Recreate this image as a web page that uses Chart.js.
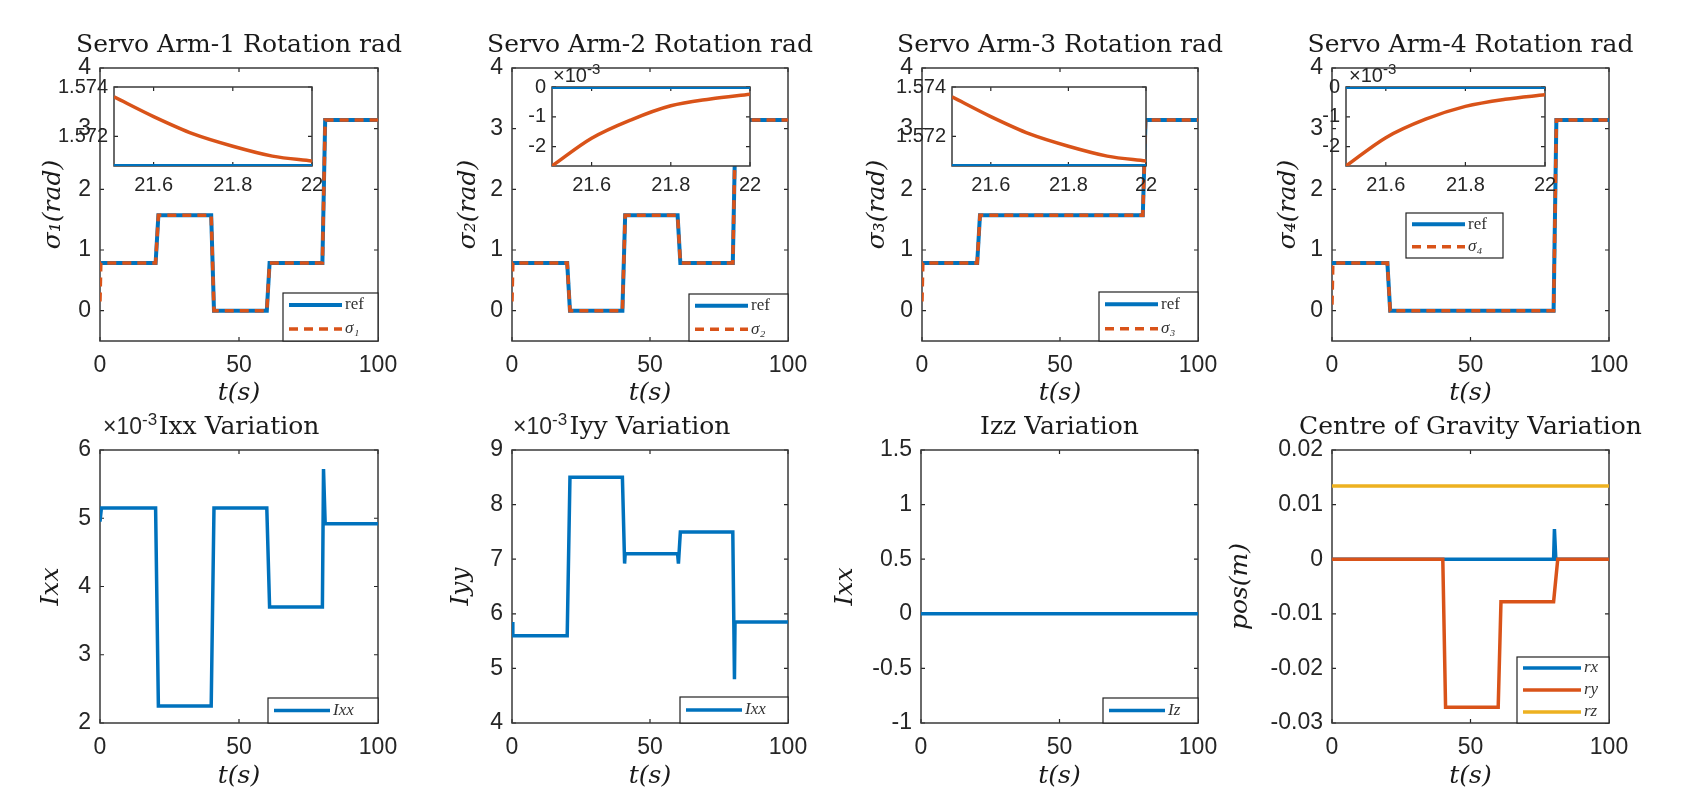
<!DOCTYPE html>
<html><head><meta charset="utf-8">
<script src="https://cdn.jsdelivr.net/npm/chart.js@4.4.1/dist/chart.umd.min.js"></script>
<style>
html,body{margin:0;padding:0;background:#fff;}
body{width:1683px;height:789px;position:relative;overflow:hidden;}
canvas{position:absolute;}
</style></head><body>
<script>
// ---------------- DATA ----------------
const xTicksMain = [0, 50, 100];
const yTicksServo = [0, 1, 2, 3, 4];
const yTicksIxx = [0.002, 0.003, 0.004, 0.005, 0.006];
const yTicksIyy = [0.004, 0.005, 0.006, 0.007, 0.008, 0.009];
const yTicksIzz = [-1, -0.5, 0, 0.5, 1, 1.5];
const yTicksCoG = [-0.03, -0.02, -0.01, 0, 0.01, 0.02];
const xTicksZoom = [21.6, 21.8, 22];
const yTicksZoomA = [1.572, 1.574];
const yTicksZoomB = [-0.002, -0.001, 0];
const exponentLabel = -3;

// servo arms (rad)
const tStep = [0, 20, 21, 40, 41, 60, 61, 80, 81, 100];
const tSig  = [0, 0.3, 20, 21, 40, 41, 60, 61, 80, 81, 100];
const ref1 = [0.785, 0.785, 1.571, 1.571, 0, 0, 0.785, 0.785, 3.142, 3.142];
const sig1 = [0.15, 0.785, 0.785, 1.571, 1.571, 0, 0, 0.785, 0.785, 3.142, 3.142];
const ref2 = [0.785, 0.785, 0, 0, 1.571, 1.571, 0.785, 0.785, 3.142, 3.142];
const sig2 = [0.15, 0.785, 0.785, 0, 0, 1.571, 1.571, 0.785, 0.785, 3.142, 3.142];
const ref3 = [0.785, 0.785, 1.571, 1.571, 1.571, 1.571, 1.571, 1.571, 3.142, 3.142];
const sig3 = [0.15, 0.785, 0.785, 1.571, 1.571, 1.571, 1.571, 1.571, 1.571, 3.142, 3.142];
const ref4 = [0.785, 0.785, 0, 0, 0, 0, 0, 0, 3.142, 3.142];
const sig4 = [0.1, 0.785, 0.785, 0, 0, 0, 0, 0, 0, 3.142, 3.142];

// zoom insets (t = 21.5 .. 22 s)
const tZoomRef = [21.5, 22.0];
const tZoom = [21.5, 21.6, 21.7, 21.8, 21.9, 22.0];
const zRef1 = [1.5708, 1.5708];
const zSig1 = [1.5736, 1.5728, 1.5721, 1.5716, 1.5712, 1.5710];
const zRef2 = [0, 0];
const zSig2 = [-0.00265, -0.00172, -0.00110, -0.00063, -0.00040, -0.00024];
const zRef3 = [1.5708, 1.5708];
const zSig3 = [1.5736, 1.5728, 1.5721, 1.5716, 1.5712, 1.5710];
const zRef4 = [0, 0];
const zSig4 = [-0.00265, -0.00170, -0.00108, -0.00065, -0.00041, -0.00026];

// inertia
const tIxx = [0, 0.5, 20, 21, 40, 41, 60, 61, 80, 80.4, 81, 100];
const Ixx  = [0.00495, 0.00515, 0.00515, 0.00225, 0.00225, 0.00515, 0.00515, 0.0037, 0.0037, 0.00572, 0.00492, 0.00492];
const tIyy = [0, 0.3, 20, 21, 40, 40.8, 41, 60, 60.3, 61, 80, 80.6, 80.8, 100];
const Iyy  = [0.00585, 0.0056, 0.0056, 0.0085, 0.0085, 0.00692, 0.0071, 0.0071, 0.00692, 0.0075, 0.0075, 0.0048, 0.00585, 0.00585];
const tIzz = [0, 100];
const Izz  = [0, 0];

// centre of gravity (m)
const tRx = [0, 80, 80.3, 80.8, 100];
const rx  = [0, 0, 0.0055, 0, 0];
const tRy = [0, 40, 41, 60, 61, 80, 81.5, 100];
const ry  = [0, 0, -0.0271, -0.0271, -0.0078, -0.0078, 0, 0];
const tRz = [0, 100];
const rz  = [0.0134, 0.0134];

// ---------------- STYLE / LAYOUT ----------------
const BLUE = '#0072BD', ORANGE = '#D95319', YELLOW = '#EDB120';
const AX = '#262626';
const TITLE_FONT = "'DejaVu Serif'", TITLE_SIZE = 25;
Chart.defaults.font.family = "'Liberation Sans', Arial, sans-serif";
Chart.defaults.color = AX;

function pts(xs, ys) { return xs.map((x, i) => ({x: x, y: ys[i]})); }
function makeCanvas(left, top, w, h) {
  const c = document.createElement('canvas');
  c.width = w; c.height = h;
  c.style.left = left + 'px'; c.style.top = top + 'px';
  c.style.width = w + 'px'; c.style.height = h + 'px';
  document.body.appendChild(c);
  return c;
}
function fmtPlain(v) { return String(Math.round(v * 1e6) / 1e6); }
function fmtMilli(v) { return String(Math.round(v * 1e6) / 1e3); }

function decor(cfg) {
  return {
    id: 'decor',
    beforeDatasetsDraw(chart) {
      const ctx = chart.ctx, a = chart.chartArea;
      ctx.save();
      if (cfg.fill) { ctx.fillStyle = '#fff'; ctx.fillRect(a.left, a.top, a.right - a.left, a.bottom - a.top); }
      ctx.strokeStyle = AX; ctx.lineWidth = 1.2;
      const xs = chart.scales.x, ys = chart.scales.y, L = 4;
      ctx.beginPath();
      xs.ticks.forEach(t => { const p = xs.getPixelForValue(t.value);
        ctx.moveTo(p, a.bottom); ctx.lineTo(p, a.bottom - L); ctx.moveTo(p, a.top); ctx.lineTo(p, a.top + L); });
      ys.ticks.forEach(t => { const p = ys.getPixelForValue(t.value);
        ctx.moveTo(a.left, p); ctx.lineTo(a.left + L, p); ctx.moveTo(a.right, p); ctx.lineTo(a.right - L, p); });
      ctx.stroke();
      ctx.strokeStyle = '#3a3a3a'; ctx.lineWidth = 1.5;
      ctx.strokeRect(a.left, a.top, a.right - a.left, a.bottom - a.top);
      ctx.restore();
    },
    afterDatasetsDraw(chart) {
      const ctx = chart.ctx;
      ctx.save();
      if (cfg.legend) {
        const g = cfg.legend;
        const x1 = g.rect[0] - cfg.cl, y1 = g.rect[1] - cfg.ct, x2 = g.rect[2] - cfg.cl, y2 = g.rect[3] - cfg.ct;
        ctx.fillStyle = '#fff'; ctx.fillRect(x1, y1, x2 - x1, y2 - y1);
        ctx.strokeStyle = '#222'; ctx.lineWidth = 1.2; ctx.strokeRect(x1, y1, x2 - x1, y2 - y1);
        const n = g.items.length;
        g.items.forEach((it, i) => {
          const ds = chart.data.datasets[it.ds];
          const yc = y1 + (y2 - y1) * (i + 0.5) / n;
          ctx.beginPath();
          ctx.setLineDash(ds.borderDash || []);
          ctx.strokeStyle = ds.borderColor; ctx.lineWidth = ds.borderWidth;
          ctx.moveTo(x1 + 6, yc); ctx.lineTo(x1 + 6 + g.len, yc); ctx.stroke();
          ctx.setLineDash([]);
          ctx.fillStyle = '#333'; ctx.textAlign = 'left'; ctx.textBaseline = 'middle';
          ctx.font = (it.italic ? 'italic ' : '') + "17px 'Liberation Serif'";
          ctx.fillText(ds.label, x1 + 9 + g.len, yc);
        });
      }
      if (cfg.exp) {
        const e = cfg.exp;
        const x = e.x - cfg.cl, y = e.y - cfg.ct;
        ctx.fillStyle = AX; ctx.textAlign = 'left'; ctx.textBaseline = 'middle';
        ctx.font = e.size + "px 'Liberation Sans'";
        ctx.fillText('\u00d710', x, y);
        const w = ctx.measureText('\u00d710').width;
        ctx.font = Math.round(e.size * 0.75) + "px 'Liberation Sans'";
        ctx.fillText(String(exponentLabel), x + w, y - e.size * 0.32);
      }
      ctx.restore();
    }
  };
}

const M = 120;
function mainChart(p) {
  const boxW = p.box[1] - p.box[0];
  const cl = p.box[0] - M, ct = p.row[0];
  const cw = boxW + 2 * M, ch = p.row[1] - p.row[0];
  const canvas = makeCanvas(cl, ct, cw, ch);
  const tTop = p.titleY - ct - TITLE_SIZE / 2;
  const tBot = (p.boxY[0] - ct) - TITLE_SIZE - tTop;
  new Chart(canvas, {
    type: 'line',
    data: {datasets: p.datasets},
    options: {
      responsive: false, animation: false, devicePixelRatio: 1,
      layout: {padding: {left: 0, right: 0, top: 0, bottom: 0}, autoPadding: false},
      plugins: {
        legend: {display: false}, tooltip: {enabled: false},
        title: {display: true, text: p.title, fullSize: true, color: '#1a1a1a',
          font: {family: TITLE_FONT, size: TITLE_SIZE, lineHeight: 1, weight: 'normal'},
          padding: {top: tTop, bottom: tBot}}
      },
      elements: {point: {radius: 0}, line: {tension: 0}},
      scales: {
        x: {type: 'linear', position: 'bottom', min: 0, max: 100,
          afterFit: s => { s.height = p.row[1] - p.boxY[1]; },
          afterBuildTicks: s => { s.ticks = xTicksMain.map(v => ({value: v})); },
          grid: {display: false, drawTicks: false}, border: {display: false},
          ticks: {padding: 11, font: {size: 23}, color: AX, maxRotation: 0, autoSkip: false, callback: fmtPlain},
          title: {display: true, text: 't(s)', color: '#1a1a1a',
            font: {family: "'DejaVu Serif'", style: 'italic', size: 25, lineHeight: 1},
            padding: {top: 0, bottom: p.xtPad}}},
        y: {type: 'linear', position: 'left', min: p.ymin, max: p.ymax,
          afterFit: s => { s.width = M; },
          afterBuildTicks: s => { s.ticks = p.yTicks.map(v => ({value: v})); },
          grid: {display: false, drawTicks: false}, border: {display: false},
          ticks: {padding: 9, font: {size: 23}, color: AX, autoSkip: false, callback: p.fmt},
          title: {display: true, text: p.ylabel, color: '#1a1a1a',
            font: {family: "'DejaVu Serif'", style: 'italic', size: 25, lineHeight: 1},
            padding: {top: (M - p.yLabelDist) - 12.5, bottom: 0}}},
        yRight: {type: 'linear', position: 'right', display: true, min: p.ymin, max: p.ymax,
          afterFit: s => { s.width = M; },
          grid: {display: false, drawTicks: false}, border: {display: false},
          ticks: {display: false}}
      }
    },
    plugins: [decor({cl: cl, ct: ct, legend: p.legend, exp: p.exp})]
  });
}

function insetChart(p) {
  const w = p.box[1] - p.box[0], h = p.boxY[1] - p.boxY[0];
  const cl = p.box[0] - 75, ct = p.boxY[0] - 30;
  const canvas = makeCanvas(cl, ct, w + 105, h + 70);
  new Chart(canvas, {
    type: 'line',
    data: {datasets: p.datasets},
    options: {
      responsive: false, animation: false, devicePixelRatio: 1,
      layout: {padding: {left: 0, right: 30, top: 30, bottom: 0}, autoPadding: false},
      plugins: {legend: {display: false}, tooltip: {enabled: false}, title: {display: false}},
      elements: {point: {radius: 0}},
      scales: {
        x: {type: 'linear', min: 21.5, max: 22,
          afterFit: s => { s.height = 40; },
          afterBuildTicks: s => { s.ticks = xTicksZoom.map(v => ({value: v})); },
          grid: {display: false, drawTicks: false}, border: {display: false},
          ticks: {padding: 7, font: {size: 20}, color: AX, maxRotation: 0, autoSkip: false, callback: fmtPlain}},
        y: {type: 'linear', min: p.ymin, max: p.ymax,
          afterFit: s => { s.width = 75; },
          afterBuildTicks: s => { s.ticks = p.yTicks.map(v => ({value: v})); },
          grid: {display: false, drawTicks: false}, border: {display: false},
          ticks: {padding: 6, font: {size: 20}, color: AX, autoSkip: false, callback: p.fmt}}
      }
    },
    plugins: [decor({cl: cl, ct: ct, fill: true, exp: p.exp})]
  });
}

function servoSets(ref, sig, sub) {
  return [
    {label: 'ref', data: pts(tStep, ref), borderColor: BLUE, borderWidth: 4, order: 1, tension: 0},
    {label: '\u03c3' + sub, data: pts(tSig, sig), borderColor: ORANGE, borderWidth: 3.5, borderDash: [9, 6], order: 0, tension: 0}
  ];
}
function zoomSets(zr, zs) {
  return [
    {label: 'ref', data: pts(tZoomRef, zr), borderColor: BLUE, borderWidth: 4, order: 1, tension: 0},
    {label: 'sig', data: pts(tZoom, zs), borderColor: ORANGE, borderWidth: 3.5, order: 0, cubicInterpolationMode: 'monotone'}
  ];
}
const servoLegend = (rect) => ({rect: rect, len: 53, items: [{ds: 0, italic: false}, {ds: 1, italic: true}]});

const TOP = [0, 410], BOT = [395, 789];
const TOPY = [68, 341], BOTY = [450, 723];

mainChart({box: [100, 378], boxY: TOPY, row: TOP, titleY: 45, xtPad: 4.5, title: 'Servo Arm-1 Rotation rad',
  ylabel: '\u03c3\u2081(rad)', yLabelDist: 47, ymin: -0.5, ymax: 4, yTicks: yTicksServo, fmt: fmtPlain,
  datasets: servoSets(ref1, sig1, '\u2081'), legend: servoLegend([283, 293, 378, 341])});
mainChart({box: [512, 788], boxY: TOPY, row: TOP, titleY: 45, xtPad: 4.5, title: 'Servo Arm-2 Rotation rad',
  ylabel: '\u03c3\u2082(rad)', yLabelDist: 44, ymin: -0.5, ymax: 4, yTicks: yTicksServo, fmt: fmtPlain,
  datasets: servoSets(ref2, sig2, '\u2082'), legend: servoLegend([689, 294, 788, 341])});
mainChart({box: [922, 1198], boxY: TOPY, row: TOP, titleY: 45, xtPad: 4.5, title: 'Servo Arm-3 Rotation rad',
  ylabel: '\u03c3\u2083(rad)', yLabelDist: 45, ymin: -0.5, ymax: 4, yTicks: yTicksServo, fmt: fmtPlain,
  datasets: servoSets(ref3, sig3, '\u2083'), legend: servoLegend([1099, 292, 1198, 341])});
mainChart({box: [1332, 1609], boxY: TOPY, row: TOP, titleY: 45, xtPad: 4.5, title: 'Servo Arm-4 Rotation rad',
  ylabel: '\u03c3\u2084(rad)', yLabelDist: 44, ymin: -0.5, ymax: 4, yTicks: yTicksServo, fmt: fmtPlain,
  datasets: servoSets(ref4, sig4, '\u2084'), legend: servoLegend([1406, 213, 1503, 258])});

mainChart({box: [100, 378], boxY: BOTY, row: BOT, titleY: 427, xtPad: 0, title: 'Ixx Variation',
  ylabel: 'Ixx', yLabelDist: 49, ymin: 0.002, ymax: 0.006, yTicks: yTicksIxx, fmt: fmtMilli,
  datasets: [{label: 'Ixx', data: pts(tIxx, Ixx), borderColor: BLUE, borderWidth: 3.5}],
  legend: {rect: [268, 698, 378, 723], len: 56, items: [{ds: 0, italic: true}]},
  exp: {x: 103, y: 428, size: 23}});
mainChart({box: [512, 788], boxY: BOTY, row: BOT, titleY: 427, xtPad: 0, title: 'Iyy Variation',
  ylabel: 'Iyy', yLabelDist: 51, ymin: 0.004, ymax: 0.009, yTicks: yTicksIyy, fmt: fmtMilli,
  datasets: [{label: 'Ixx', data: pts(tIyy, Iyy), borderColor: BLUE, borderWidth: 3.5}],
  legend: {rect: [680, 697, 788, 723], len: 56, items: [{ds: 0, italic: true}]},
  exp: {x: 513, y: 428, size: 23}});
mainChart({box: [921, 1198], boxY: BOTY, row: BOT, titleY: 427, xtPad: 0, title: 'Izz Variation',
  ylabel: 'Ixx', yLabelDist: 76, ymin: -1, ymax: 1.5, yTicks: yTicksIzz, fmt: fmtPlain,
  datasets: [{label: 'Iz', data: pts(tIzz, Izz), borderColor: BLUE, borderWidth: 3.5}],
  legend: {rect: [1103, 698, 1198, 723], len: 56, items: [{ds: 0, italic: true}]}});
mainChart({box: [1332, 1609], boxY: BOTY, row: BOT, titleY: 427, xtPad: 0, title: 'Centre of Gravity Variation',
  ylabel: 'pos(m)', yLabelDist: 92, ymin: -0.03, ymax: 0.02, yTicks: yTicksCoG, fmt: fmtPlain,
  datasets: [
    {label: 'rx', data: pts(tRx, rx), borderColor: BLUE, borderWidth: 3.5, order: 2},
    {label: 'ry', data: pts(tRy, ry), borderColor: ORANGE, borderWidth: 3.5, order: 1},
    {label: 'rz', data: pts(tRz, rz), borderColor: YELLOW, borderWidth: 3.5, order: 0}],
  legend: {rect: [1517, 657, 1609, 723], len: 58, items: [{ds: 0, italic: true}, {ds: 1, italic: true}, {ds: 2, italic: true}]}});

insetChart({box: [114, 312], boxY: [87, 166], ymin: 1.5708, ymax: 1.574, yTicks: yTicksZoomA, fmt: fmtPlain,
  datasets: zoomSets(zRef1, zSig1)});
insetChart({box: [552, 750], boxY: [87, 166], ymin: -0.00265, ymax: 0, yTicks: yTicksZoomB, fmt: fmtMilli,
  datasets: zoomSets(zRef2, zSig2), exp: {x: 553, y: 76, size: 20}});
insetChart({box: [952, 1146], boxY: [87, 166], ymin: 1.5708, ymax: 1.574, yTicks: yTicksZoomA, fmt: fmtPlain,
  datasets: zoomSets(zRef3, zSig3)});
insetChart({box: [1346, 1545], boxY: [87, 166], ymin: -0.00265, ymax: 0, yTicks: yTicksZoomB, fmt: fmtMilli,
  datasets: zoomSets(zRef4, zSig4), exp: {x: 1349, y: 76, size: 20}});
</script>
</body></html>
